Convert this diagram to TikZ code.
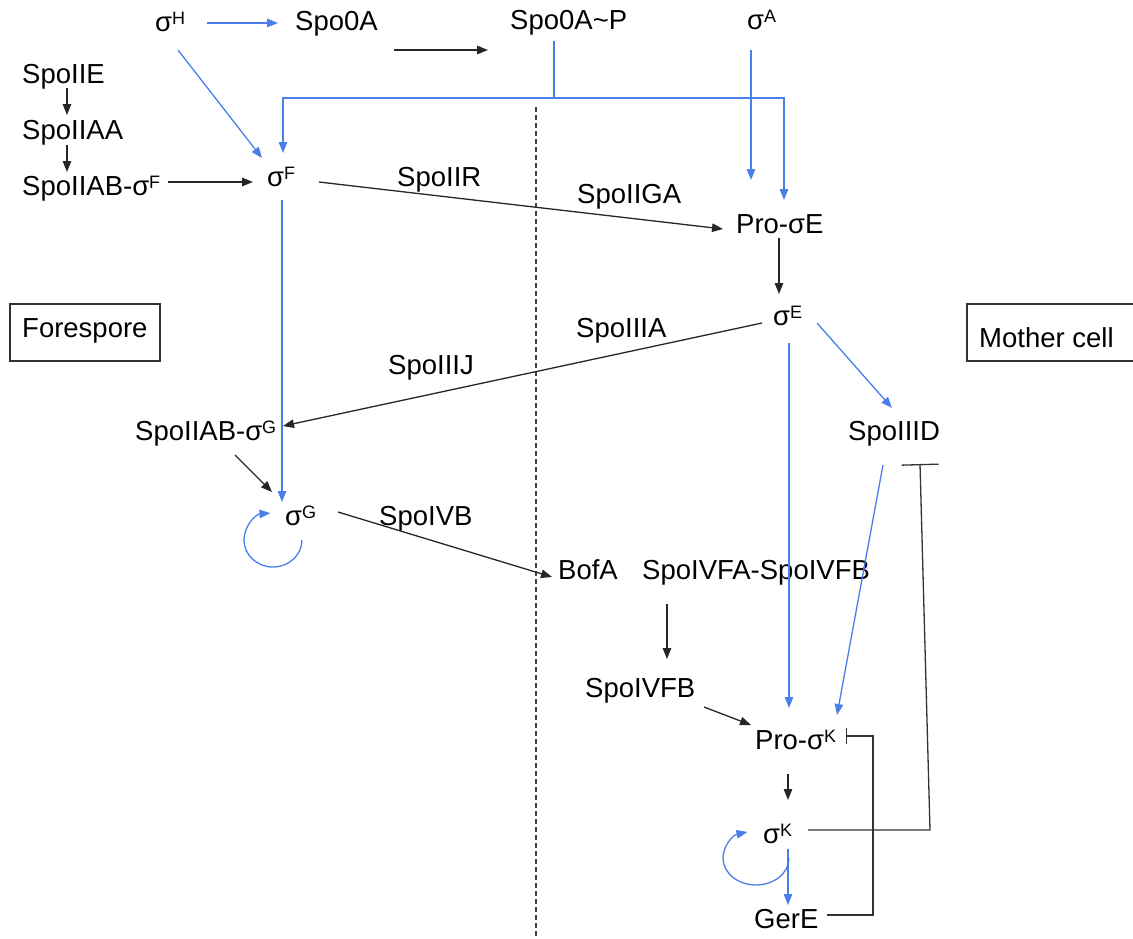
\documentclass[tikz,border=0pt]{standalone}
\usepackage{fontspec}
\setmainfont{Liberation Sans}
\usetikzlibrary{arrows.meta,calc}
\definecolor{lblue}{RGB}{74,126,232}
\newcommand\fs{\fontsize{27.5}{33}\selectfont}
\newcommand\sps[1]{\raisebox{7pt}{\fontsize{18}{18}\selectfont #1}}
\tikzset{
  txt/.style={inner sep=0pt, anchor=base west, font=\fs},
  blk/.style={line width=1.3pt, draw=black!85, -{Triangle[length=11pt,width=8.5pt]}},
  blu/.style={line width=1.3pt, draw=lblue, -{Triangle[length=11pt,width=8.5pt]}, color=lblue},
  inh/.style={line width=1.3pt, draw=black!80},
  divider/.style={line width=1.3pt, draw=black!75, dash pattern=on 5pt off 3pt},
}
\begin{document}
\begin{tikzpicture}[x=1pt,y=-1pt]
\useasboundingbox (0,0) rectangle (1133,938);
% nodes
\node[txt] (sH) at (155,31) {σ\sps{H}};
\node[txt] (spo0a) at (295,30) {Spo0A};
\node[txt] (spo0ap) at (510,29) {Spo0A\textasciitilde P};
\node[txt] (sA) at (747,29) {σ\sps{A}};
\node[txt] (spoIIE) at (22,83) {SpoIIE};
\node[txt] (spoIIAA) at (22,139) {SpoIIAA};
\node[txt] (spoIIABF) at (22,195) {SpoIIAB-σ\sps{F}};
\node[txt] (sF) at (267,186) {σ\sps{F}};
\node[txt] (lIIR) at (397,186) {SpoIIR};
\node[txt] (lIIGA) at (577,203) {SpoIIGA};
\node[txt] (proE) at (736,233) {Pro-σE};
\node[txt] (sE) at (773,325) {σ\sps{E}};
\node[txt] (lIIIA) at (576,337) {SpoIIIA};
\node[txt] (lIIIJ) at (388,374) {SpoIIIJ};
\node[txt] (spoIIABG) at (135,440) {SpoIIAB-σ\sps{G}};
\node[txt] (spoIIID) at (848,440) {SpoIIID};
\node[txt] (sG) at (285,525) {σ\sps{G}};
\node[txt] (lIVB) at (379,525) {SpoIVB};
\node[txt] (bofA) at (558,579) {BofA};
\node[txt] (spoIVFAB) at (642,579) {SpoIVFA-SpoIVFB};
\node[txt] (spoIVFB) at (585,697) {SpoIVFB};
\node[txt] (proK) at (755,749) {Pro-σ\sps{K}};
\node[txt] (sK) at (763,843) {σ\sps{K}};
\node[txt] (gerE) at (754,928) {GerE};
\node[txt] (fore) at (22,337) {Forespore};
\node[txt] (mother) at (979,347) {Mother cell};
% boxes
\draw[line width=1.1pt, draw=black!80] ($(fore.base west)+(-12,-33)$) rectangle ($(fore.base west)+(138,24)$);
\draw[line width=1.1pt, draw=black!80] ($(mother.base west)+(156,-43)$) -| ($(mother.base west)+(-12,14)$) -- ($(mother.base west)+(156,14)$);
% divider
\draw[divider] (536,107) -- (536,938);
% connectors
\draw[blu] ($(sH.base west)+(52,-8)$) -- ($(spo0a.base west)+(-17,-7)$);
\draw[blk] ($(spo0a.base west)+(99,20)$) -- ($(spo0ap.base west)+(-22,21)$);
\draw[line width=1.3pt, draw=lblue] ($(spo0ap.base west)+(44,12)$) -- ++(0,57) coordinate (jn);
\draw[blu] (jn) -| ($(sF.base west)+(16,-33)$);
\draw[blu] (jn) -| ($(proE.base west)+(48,-33)$);
\draw[blu] ($(sA.base west)+(4,21)$) -- ($(proE.base west)+(15,-53)$);
\draw[blu] ($(sH.base west)+(23,19)$) -- ($(sF.base west)+(-5,-28)$);
\draw[blk] ($(spoIIE.base west)+(45,5)$) -- ($(spoIIAA.base west)+(45,-24)$);
\draw[blk] ($(spoIIAA.base west)+(45,6)$) -- ($(spoIIABF.base west)+(45,-23)$);
\draw[blk] ($(spoIIABF.base west)+(146,-13)$) -- ($(sF.base west)+(-14,-4)$);
\draw[blk] ($(sF.base west)+(52,-4)$) -- ($(proE.base west)+(-13,-4)$);
\draw[blk] ($(proE.base west)+(43,5)$) -- ($(sE.base west)+(6,-31)$);
\draw[blk] ($(sE.base west)+(-11,-2)$) -- ($(spoIIABG.base west)+(148,-14)$);
\draw[blu] ($(sE.base west)+(44,-2)$) -- ($(spoIIID.base west)+(44,-32)$);
\draw[blu] ($(sF.base west)+(15,14)$) -- ($(sG.base west)+(-3,-23)$);
\draw[blk] ($(spoIIABG.base west)+(100,15)$) -- ($(sG.base west)+(-13,-33)$);
\draw[blu] ($(sG.base west)+(17,15)$) arc[start angle=0, end angle=265, x radius=29, y radius=27];
\draw[blk] ($(sG.base west)+(53,-13)$) -- ($(bofA.base west)+(-6,-2)$);
\draw[blk] ($(spoIVFAB.base west)+(25,25)$) -- ($(spoIVFB.base west)+(82,-38)$);
\draw[blk] ($(spoIVFB.base west)+(119,10)$) -- ($(proK.base west)+(-4,-24)$);
\draw[blu] ($(sE.base west)+(16,18)$) -- ($(proK.base west)+(34,-41)$);
\draw[blu] ($(spoIIID.base west)+(35,25)$) -- ($(proK.base west)+(82,-34)$);
\draw[blk] ($(proK.base west)+(33,25)$) -- ($(sK.base west)+(25,-43)$);
\draw[blu] ($(sK.base west)+(25,6)$) -- ($(gerE.base west)+(34,-23)$);
\draw[blu] ($(sK.base west)+(26,15)$) arc[start angle=0, end angle=255, x radius=33, y radius=27];
\draw[inh, -{Bar[width=16pt]}] ($(gerE.base west)+(73,-13)$) -| ($(proK.base west)+(118,-13)$) -- ($(proK.base west)+(91,-13)$);
\draw[inh, -{Bar[width=37pt]}] ($(sK.base west)+(45,-13)$) -- ($(sK.base west)+(167,-13)$) -- ($(spoIIID.base west)+(72,24)$);
\end{tikzpicture}
\end{document}
